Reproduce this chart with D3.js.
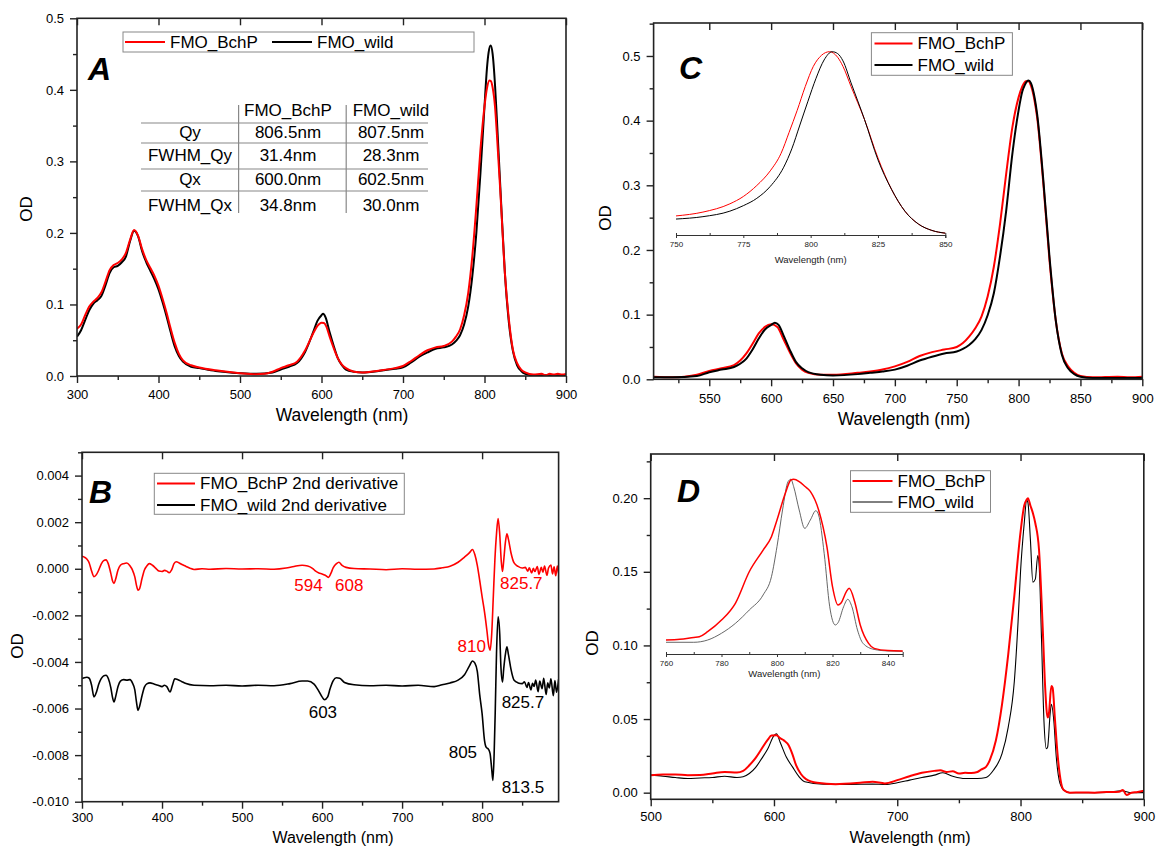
<!DOCTYPE html>
<html>
<head>
<meta charset="utf-8">
<script src="https://cdn.jsdelivr.net/npm/d3@7"></script>
<style>
  body { margin: 0; background: #fff; }
  text { font-family: Arial, "Liberation Sans", sans-serif; }
</style>
</head>
<body>
<svg id="fig" width="1157" height="846"></svg>
<script>
// ---------- data ----------
// panel A : absorption spectra
const absBchP = [[300,0.066],[305,0.072],[310,0.085],[315,0.097],[320,0.104],[325,0.109],[330,0.117],[335,0.132],[340,0.148],[345,0.155],[350,0.158],[355,0.163],[360,0.172],[365,0.190],[370,0.204],[375,0.196],[380,0.177],[385,0.162],[390,0.151],[395,0.140],[400,0.126],[405,0.108],[410,0.088],[415,0.066],[420,0.046],[425,0.031],[430,0.022],[440,0.015],[450,0.012],[470,0.008],[500,0.004],[520,0.0025],[530,0.003],[540,0.006],[550,0.011],[560,0.015],[570,0.020],[580,0.036],[590,0.060],[595,0.070],[600,0.0745],[603,0.074],[606,0.069],[610,0.055],[615,0.039],[620,0.025],[625,0.016],[630,0.011],[640,0.006],[650,0.005],[670,0.0075],[690,0.011],[700,0.014],[710,0.021],[720,0.029],[730,0.036],[740,0.040],[750,0.042],[760,0.048],[765,0.055],[770,0.065],[775,0.085],[780,0.116],[785,0.167],[790,0.237],[795,0.316],[800,0.377],[803,0.402],[806,0.413],[808,0.412],[810,0.403],[813,0.375],[815,0.342],[820,0.246],[825,0.144],[830,0.078],[835,0.036],[840,0.018],[845,0.009],[850,0.005],[860,0.002],[870,0.003],[875,0.001],[880,0.003],[885,0.002],[890,0.003],[895,0.002],[900,0.003]];
const absWild = [[300,0.055],[305,0.064],[310,0.078],[315,0.092],[320,0.101],[325,0.106],[330,0.112],[335,0.127],[340,0.144],[345,0.152],[350,0.154],[355,0.159],[360,0.167],[365,0.188],[370,0.203],[375,0.195],[380,0.174],[385,0.159],[390,0.147],[395,0.135],[400,0.121],[405,0.103],[410,0.083],[415,0.061],[420,0.041],[425,0.028],[430,0.020],[440,0.013],[450,0.011],[470,0.007],[500,0.004],[520,0.003],[540,0.005],[550,0.009],[560,0.013],[570,0.018],[580,0.034],[590,0.062],[595,0.077],[600,0.085],[602,0.087],[605,0.082],[610,0.061],[615,0.042],[620,0.025],[625,0.015],[630,0.009],[640,0.006],[650,0.005],[670,0.007],[690,0.010],[700,0.012],[710,0.019],[720,0.027],[730,0.033],[740,0.038],[750,0.040],[760,0.044],[765,0.049],[770,0.057],[775,0.072],[780,0.097],[785,0.139],[790,0.200],[795,0.283],[800,0.377],[803,0.430],[805,0.452],[807.5,0.462],[810,0.450],[813,0.405],[815,0.363],[820,0.251],[825,0.144],[830,0.074],[835,0.034],[840,0.015],[845,0.007],[850,0.003],[860,0.001],[900,0.001]];

const tableCols = ["FMO_BchP", "FMO_wild"];
const tableRows = ["Qy", "FWHM_Qy", "Qx", "FWHM_Qx"];
const tableBchP = ["806.5nm", "31.4nm", "600.0nm", "34.8nm"];
const tableWild = ["807.5nm", "28.3nm", "602.5nm", "30.0nm"];

// panel B : 2nd derivative spectra
const derBchP = [[300,0.00054],[303,0.00050],[306,0.00042],[309,0.00025],[312,-0.00010],[315,-0.00034],[318,-0.00025],[321,-0.00005],[324,0.00020],[327,0.00035],[330,0.00038],[333,0.00020],[336,-0.00020],[338,-0.00050],[340,-0.00063],[342,-0.00045],[345,-0.00005],[348,0.00015],[352,0.00022],[356,0.00025],[360,0.00012],[363,-0.00005],[366,-0.00035],[368,-0.00070],[370,-0.00092],[372,-0.00085],[375,-0.00042],[378,-0.00005],[381,0.00012],[384,0.00022],[388,0.00015],[392,0.00003],[396,-0.00010],[400,-0.00012],[403,-0.00007],[406,-0.00010],[409,-0.00017],[412,-0.00005],[415,0.00022],[418,0.00030],[421,0.00026],[425,0.00018],[430,0.00010],[435,0.00002],[440,-0.00003],[450,0.00000],[460,-0.00002],[480,0.00001],[500,-0.00001],[520,0.00000],[540,-0.00002],[555,0.00003],[565,0.00010],[575,0.00015],[582,0.00012],[588,0.00002],[592,-0.00010],[596,-0.00018],[600,-0.00022],[604,-0.00028],[608,-0.00037],[611,-0.00020],[614,0.00005],[618,0.00022],[621,0.00028],[625,0.00015],[630,0.00006],[640,0.00001],[660,-0.00001],[680,-0.00004],[700,0.00000],[720,-0.00002],[740,-0.00001],[750,0.00004],[760,0.00011],[770,0.00028],[778,0.00050],[784,0.00068],[788,0.00083],[791,0.00060],[794,0.00015],[797,-0.00050],[800,-0.00120],[803,-0.00185],[806,-0.00265],[808,-0.00325],[810,-0.00350],[812,-0.00280],[814,-0.00120],[816,0.00040],[818,0.00150],[820,0.00216],[822,0.00150],[824,0.00030],[825.5,-0.00012],[827,0.00035],[829,0.00110],[831,0.00150],[833,0.00125],[836,0.00070],[840,0.00025],[845,0.00010],[850,0.00003],[854,0.00006],[857,-0.00010],[859,0.00004],[862,-0.00018],[864,0.00002],[866,-0.00012],[869,0.00010],[871,-0.00024],[874,0.00006],[876,-0.00015],[878,0.00012],[881,-0.00028],[883,0.00003],[886,0.00016],[888,-0.00022],[890,0.00008],[892,-0.00030],[894,0.00012],[895.6,-0.00020]];
const derWild = [[300,-0.00472],[303,-0.00468],[306,-0.00466],[309,-0.00470],[312,-0.00500],[315,-0.00550],[318,-0.00530],[321,-0.00495],[324,-0.00472],[327,-0.00460],[330,-0.00457],[333,-0.00472],[336,-0.00510],[338,-0.00550],[340,-0.00572],[342,-0.00550],[345,-0.00505],[348,-0.00482],[352,-0.00476],[356,-0.00478],[360,-0.00476],[363,-0.00490],[366,-0.00520],[368,-0.00570],[370,-0.00608],[372,-0.00590],[375,-0.00545],[378,-0.00508],[381,-0.00494],[385,-0.00490],[390,-0.00495],[395,-0.00500],[400,-0.00506],[403,-0.00500],[406,-0.00506],[410,-0.00529],[413,-0.00500],[416,-0.00472],[420,-0.00476],[425,-0.00485],[430,-0.00493],[440,-0.00500],[460,-0.00502],[480,-0.00500],[500,-0.00503],[520,-0.00500],[540,-0.00502],[560,-0.00493],[575,-0.00482],[582,-0.00482],[590,-0.00495],[595,-0.00520],[600,-0.00550],[603,-0.00562],[607,-0.00550],[610,-0.00515],[614,-0.00480],[618,-0.00468],[622,-0.00470],[628,-0.00488],[640,-0.00498],[660,-0.00502],[680,-0.00500],[700,-0.00503],[720,-0.00500],[740,-0.00506],[750,-0.00498],[760,-0.00490],[770,-0.00478],[778,-0.00455],[784,-0.00418],[788,-0.00396],[791,-0.00405],[794,-0.00440],[797,-0.00540],[800,-0.00622],[803,-0.00737],[805,-0.00766],[808,-0.00775],[810,-0.00794],[812,-0.00860],[813.5,-0.00909],[815,-0.00800],[816.5,-0.00600],[818,-0.00364],[820,-0.00206],[822,-0.00278],[823.5,-0.00420],[825.5,-0.00486],[827,-0.00430],[829,-0.00370],[831,-0.00335],[833,-0.00370],[836,-0.00430],[840,-0.00479],[845,-0.00490],[850,-0.00493],[853,-0.00485],[856,-0.00510],[858,-0.00488],[861,-0.00520],[863,-0.00492],[865,-0.00505],[867,-0.00478],[870,-0.00528],[872,-0.00482],[875,-0.00515],[877,-0.00470],[880,-0.00540],[882,-0.00490],[884,-0.00512],[886,-0.00472],[889,-0.00545],[891,-0.00480],[893,-0.00530],[895.6,-0.00475]];

// peak labels in B: [text, nm, OD, colour]
const derLabels = [
  ["594", 583, -0.00070, "red"], ["608", 634, -0.00070, "red"],
  ["825.7", 849, -0.00063, "red"], ["810", 787, -0.00332, "red"],
  ["603", 601, -0.00619, "black"], ["825.7", 851, -0.00572, "black"],
  ["805", 776, -0.00787, "black"], ["813.5", 851, -0.00938, "black"]
];

// panel C : normalised spectra
const normBchP = [[505,0.004],[520,0.003],[530,0.004],[540,0.007],[550,0.013],[560,0.017],[570,0.022],[575,0.029],[580,0.040],[585,0.055],[590,0.071],[595,0.081],[600,0.085],[605,0.081],[610,0.062],[615,0.042],[620,0.025],[625,0.015],[630,0.010],[640,0.007],[650,0.007],[670,0.010],[680,0.012],[690,0.015],[700,0.020],[710,0.027],[720,0.036],[730,0.042],[740,0.046],[750,0.050],[755,0.056],[760,0.066],[765,0.079],[770,0.097],[775,0.128],[780,0.174],[785,0.240],[790,0.318],[795,0.390],[800,0.436],[803,0.453],[806,0.461],[808,0.461],[810,0.454],[813,0.430],[815,0.405],[820,0.303],[825,0.184],[830,0.092],[835,0.040],[840,0.020],[845,0.010],[850,0.005],[860,0.003],[880,0.004],[890,0.003],[900,0.004]];
const normWild = [[505,0.003],[520,0.003],[540,0.005],[550,0.011],[560,0.015],[570,0.019],[575,0.024],[580,0.032],[585,0.046],[590,0.063],[595,0.077],[600,0.084],[603,0.0875],[606,0.084],[610,0.068],[615,0.046],[620,0.027],[625,0.017],[630,0.011],[640,0.007],[650,0.006],[670,0.008],[680,0.010],[690,0.012],[700,0.015],[710,0.021],[720,0.029],[730,0.035],[740,0.040],[750,0.043],[755,0.047],[760,0.053],[765,0.062],[770,0.076],[775,0.099],[780,0.133],[785,0.190],[790,0.261],[795,0.349],[800,0.416],[803,0.445],[805,0.455],[808,0.462],[810,0.458],[813,0.435],[815,0.410],[820,0.308],[825,0.189],[830,0.092],[835,0.038],[840,0.017],[845,0.008],[850,0.004],[860,0.002],[900,0.002]];
const insetCBchP = [[750,0.104],[760,0.125],[770,0.17],[775,0.21],[780,0.27],[785,0.35],[789,0.445],[792,0.56],[795,0.68],[798,0.81],[801,0.92],[804,0.98],[807,1.0],[810,0.97],[812,0.92],[815,0.81],[820,0.63],[825,0.42],[830,0.25],[835,0.13],[840,0.06],[845,0.025],[850,0.01]];
const insetCWild = [[750,0.087],[760,0.10],[770,0.13],[775,0.16],[780,0.20],[785,0.265],[790,0.37],[793,0.47],[796,0.60],[799,0.73],[802,0.855],[805,0.955],[808,1.0],[810,0.99],[812,0.95],[815,0.83],[820,0.63],[825,0.41],[830,0.25],[835,0.13],[840,0.06],[845,0.025],[850,0.01]];

// panel D : low temperature spectra
const ltBchP = [[500,0.0119],[510,0.0123],[520,0.0123],[530,0.0119],[540,0.0120],[550,0.0130],[560,0.0141],[570,0.0137],[575,0.0148],[580,0.0186],[585,0.0235],[590,0.0298],[595,0.0360],[598,0.0388],[602,0.0390],[605,0.0370],[608,0.0355],[612,0.0320],[615,0.0260],[618,0.0185],[622,0.0125],[626,0.0092],[635,0.0067],[650,0.0058],[670,0.0067],[680,0.0074],[690,0.0063],[700,0.0085],[710,0.0112],[720,0.0135],[730,0.0148],[735,0.0152],[740,0.0141],[745,0.0145],[750,0.0130],[755,0.0135],[760,0.0133],[765,0.0140],[768,0.0157],[772,0.0175],[775,0.0220],[780,0.0354],[785,0.0600],[790,0.0937],[795,0.1340],[800,0.1770],[803,0.1950],[805,0.1990],[806,0.2000],[808,0.1950],[810,0.1900],[812,0.1830],[815,0.1650],[818,0.1120],[820,0.0713],[822,0.0510],[823,0.0534],[825,0.0724],[826,0.0713],[828,0.0489],[830,0.0265],[833,0.0063],[835,0.0018],[840,0.0000],[850,0.0002],[860,0.0000],[870,0.0004],[880,0.0007],[883,0.0018],[886,-0.0016],[890,0.0000],[895,0.0004],[900,0.0013]];
const ltWild = [[500,0.0119],[510,0.0112],[520,0.0103],[530,0.0096],[540,0.0100],[550,0.0103],[560,0.0112],[570,0.0103],[575,0.0108],[580,0.0130],[585,0.0170],[590,0.0231],[595,0.0298],[600,0.0388],[602,0.0399],[605,0.0343],[610,0.0242],[615,0.0175],[620,0.0112],[625,0.0074],[640,0.0058],[660,0.0056],[680,0.0058],[690,0.0056],[700,0.0067],[710,0.0085],[720,0.0103],[730,0.0119],[737,0.0135],[745,0.0112],[755,0.0096],[765,0.0096],[772,0.0103],[778,0.0152],[785,0.0265],[790,0.0444],[795,0.0758],[798,0.1160],[800,0.1500],[803,0.1830],[805,0.1987],[806,0.1970],[808,0.1720],[810,0.1430],[812,0.1450],[814,0.1610],[815,0.1560],[817,0.1050],[819,0.0489],[821,0.0298],[822,0.0310],[824,0.0534],[825,0.0600],[827,0.0489],[829,0.0242],[832,0.0063],[835,0.0018],[840,0.0000],[850,0.0000],[870,0.0002],[882,0.0013],[890,0.0000],[900,0.0000]];
const insetDBchP = [[760,0.073],[765,0.077],[770,0.088],[772,0.092],[775,0.121],[780,0.188],[785,0.285],[790,0.467],[795,0.592],[798,0.669],[800,0.765],[803,0.919],[805,0.996],[806,1.0],[808,0.987],[810,0.96],[812,0.93],[815,0.823],[818,0.61],[820,0.381],[822,0.275],[823,0.285],[825,0.352],[826,0.371],[828,0.294],[830,0.16],[833,0.054],[835,0.025],[840,0.012],[845.3,0.01]];
const insetDWild = [[760,0.06],[770,0.06],[775,0.073],[780,0.112],[785,0.169],[790,0.246],[795,0.333],[798,0.438],[800,0.612],[802,0.823],[804,0.987],[805,1.0],[806,0.958],[808,0.823],[810,0.717],[812,0.765],[814,0.819],[815,0.794],[817,0.573],[819,0.265],[821,0.16],[822,0.173],[824,0.265],[825.5,0.308],[827,0.265],[829,0.131],[831,0.054],[835,0.019],[840,0.01],[845.3,0.008]];

// ---------- drawing ----------
const svg = d3.select("#fig");
svg.append("rect").attr("width", 1157).attr("height", 846).attr("fill", "#fff");

const RED = "#ff0000";
const FONT = "Arial, 'Liberation Sans', sans-serif";
const TICK_FONT = 13;
const dash = s => s.replace(/\u2212/g, "-");
const range = (a, b, s) => d3.range(a, b + s / 2, s);

function makeLine(x, y) {
    return d3.line().x(d => x(d[0])).y(d => y(d[1])).curve(d3.curveMonotoneX);
}

// d3.axis sets font-size 10 on its group, so restyle after the call
function styleAxis(sel, size) {
    sel.attr("font-size", size).attr("font-family", FONT);
    sel.selectAll(".domain").remove();
    sel.selectAll("line").attr("stroke", "#222").attr("stroke-width", 1.4);
    sel.selectAll("text").attr("fill", "#000");
}

function drawPanel(p) {
    let g = svg.append("g").attr("class", "panel-" + p.id);
    let x = d3.scaleLinear().domain(p.xDomain).range([p.left, p.right]);
    let y = d3.scaleLinear().domain(p.yDomain).range([p.bottom, p.top]);

    // clip curves to the frame
    let clipId = "clip-" + p.id;
    svg.append("clipPath").attr("id", clipId).append("rect")
        .attr("x", p.left).attr("y", p.top)
        .attr("width", p.right - p.left).attr("height", p.bottom - p.top);

    let line = makeLine(x, y);
    let curves = g.append("g").attr("clip-path", `url(#${clipId})`);
    p.series.forEach(s => {
        curves.append("path").datum(s.data)
            .attr("d", line)
            .attr("fill", "none")
            .attr("stroke", s.color)
            .attr("stroke-width", s.width)
            .attr("stroke-linejoin", "round");
    });

    // axes: bottom & left ticks point out, top ticks point in
    let axG = g.append("g");
    axG.append("g").attr("transform", `translate(0,${p.bottom})`)
        .call(d3.axisBottom(x).tickValues(p.xMajor).tickSize(7).tickPadding(p.xPad).tickFormat(p.xFmt))
        .call(styleAxis, TICK_FONT);
    axG.append("g").attr("transform", `translate(0,${p.bottom})`)
        .call(d3.axisBottom(x).tickValues(p.xMinor).tickSize(4).tickFormat(""))
        .call(styleAxis, TICK_FONT);
    axG.append("g").attr("transform", `translate(0,${p.top})`)
        .call(d3.axisTop(x).tickValues(p.xMajor).tickSize(-7).tickFormat(""))
        .call(styleAxis, TICK_FONT);
    axG.append("g").attr("transform", `translate(${p.left},0)`)
        .call(d3.axisLeft(y).tickValues(p.yMajor).tickSize(7).tickPadding(6).tickFormat(p.yFmt))
        .call(styleAxis, TICK_FONT);
    axG.append("g").attr("transform", `translate(${p.left},0)`)
        .call(d3.axisLeft(y).tickValues(p.yMinor).tickSize(4).tickFormat(""))
        .call(styleAxis, TICK_FONT);

    g.append("rect")
        .attr("x", p.left).attr("y", p.top)
        .attr("width", p.right - p.left).attr("height", p.bottom - p.top)
        .attr("fill", "none").attr("stroke", "#222").attr("stroke-width", 1.6);

    // titles
    g.append("text").attr("x", p.xTitle[0]).attr("y", p.xTitle[1])
        .attr("text-anchor", "middle").attr("font-size", p.xTitleSize).text("Wavelength (nm)");
    g.append("text")
        .attr("transform", `translate(${p.yTitle[0]},${p.yTitle[1]}) rotate(-90)`)
        .attr("text-anchor", "middle").attr("dominant-baseline", "central")
        .attr("font-size", 17).text("OD");
    g.append("text").attr("x", p.letter[0]).attr("y", p.letter[1])
        .attr("font-size", 32).attr("font-weight", "bold").attr("font-style", "italic")
        .text(p.id);

    // legend
    let L = p.legend;
    let lg = g.append("g");
    lg.append("rect").attr("x", L.x).attr("y", L.y).attr("width", L.w).attr("height", L.h)
        .attr("fill", "#fff").attr("stroke", "#888").attr("stroke-width", 1);
    L.items.forEach(it => {
        lg.append("line").attr("x1", it.x).attr("x2", it.x + L.lineLen)
            .attr("y1", it.y).attr("y2", it.y)
            .attr("stroke", it.color).attr("stroke-width", it.width);
        lg.append("text").attr("x", it.x + L.lineLen + 5).attr("y", it.y)
            .attr("dominant-baseline", "central").attr("font-size", 17).text(it.label);
    });

    return {g, x, y};
}

function drawInset(g, ins) {
    let x = d3.scaleLinear().domain(ins.xDomain).range([ins.left, ins.right]);
    let y = d3.scaleLinear().domain([0, 1]).range([ins.base, ins.peak]);
    let line = makeLine(x, y);
    ins.series.forEach(s => {
        g.append("path").datum(s.data).attr("d", line)
            .attr("fill", "none").attr("stroke", s.color).attr("stroke-width", s.width);
    });
    let ax = g.append("g").attr("transform", `translate(0,${ins.axisY})`);
    ax.call(d3.axisBottom(x).tickValues(ins.major).tickSize(3).tickPadding(3).tickFormat(d3.format("d")));
    ax.append("g").call(d3.axisBottom(x).tickValues(ins.minor).tickSize(-2).tickFormat(""));
    ax.attr("font-size", 8).attr("font-family", FONT);
    ax.selectAll(".domain").attr("stroke", "#333").attr("stroke-width", 1);
    ax.selectAll("line").attr("stroke", "#333");
    ax.selectAll("text").attr("fill", "#222");
    g.append("text").attr("x", (ins.left + ins.right) / 2).attr("y", ins.titleY)
        .attr("text-anchor", "middle").attr("dominant-baseline", "central")
        .attr("font-size", 9.5).attr("fill", "#222").text("Wavelength (nm)");
}

// ---- A ----
let A = drawPanel({
    id: "A", left: 77, right: 566, top: 18.3, bottom: 376,
    xDomain: [300, 900], yDomain: [0, 0.5],
    xMajor: range(300, 900, 100), xMinor: range(350, 850, 100),
    yMajor: range(0, 0.5, 0.1), yMinor: range(0.05, 0.45, 0.1),
    xFmt: d3.format("d"), yFmt: d3.format(".1f"), xPad: 7,
    xTitle: [342, 421], xTitleSize: 17.5, yTitle: [26, 209], letter: [88, 80],
    series: [{data: absWild, color: "#000", width: 2}, {data: absBchP, color: RED, width: 2}],
    legend: {x: 123, y: 32, w: 351, h: 20, lineLen: 40, items: [
        {x: 125, y: 42, color: RED, width: 2, label: "FMO_BchP"},
        {x: 272, y: 42, color: "#000", width: 2, label: "FMO_wild"}]}
});

// summary table in A
(function() {
    let g = A.g.append("g").attr("font-size", 17);
    let rowY = [132, 155, 179, 205], hLines = [123, 143, 169, 191];
    let colX = [190, 288, 391];
    hLines.forEach(yy => g.append("line").attr("x1", 141).attr("x2", 428)
        .attr("y1", yy).attr("y2", yy).attr("stroke", "#888").attr("stroke-width", 1.2));
    [238.6, 346.2].forEach(xx => g.append("line").attr("x1", xx).attr("x2", xx)
        .attr("y1", 105).attr("y2", 213).attr("stroke", "#888").attr("stroke-width", 1.2));
    tableCols.forEach((c, i) => g.append("text").attr("x", colX[i + 1]).attr("y", 110)
        .attr("text-anchor", "middle").attr("dominant-baseline", "central").text(c));
    tableRows.forEach((r, i) => {
        [r, tableBchP[i], tableWild[i]].forEach((t, j) => g.append("text")
            .attr("x", colX[j]).attr("y", rowY[i])
            .attr("text-anchor", "middle").attr("dominant-baseline", "central").text(t));
    });
})();

// ---- B ----
let B = drawPanel({
    id: "B", left: 82, right: 558.6, top: 452.3, bottom: 801.7,
    xDomain: [300, 895.6], yDomain: [-0.010, 0.005],
    xMajor: range(300, 800, 100), xMinor: range(350, 850, 100),
    yMajor: range(-0.010, 0.004, 0.002), yMinor: range(-0.009, 0.005, 0.002),
    xFmt: d3.format("d"), yFmt: d => dash(d3.format(".3f")(d)), xPad: 4,
    xTitle: [333, 842.5], xTitleSize: 16, yTitle: [17, 646], letter: [89, 503],
    series: [{data: derBchP, color: RED, width: 1.6}, {data: derWild, color: "#000", width: 1.6}],
    legend: {x: 154.3, y: 473.3, w: 250, h: 41, lineLen: 38, items: [
        {x: 157, y: 483.5, color: RED, width: 2, label: "FMO_BchP 2nd derivative"},
        {x: 157, y: 505, color: "#000", width: 2, label: "FMO_wild 2nd derivative"}]}
});
derLabels.forEach(([t, nm, od, c]) => {
    B.g.append("text").attr("x", B.x(nm)).attr("y", B.y(od))
        .attr("text-anchor", "middle").attr("dominant-baseline", "central")
        .attr("font-size", 17).attr("fill", c === "red" ? RED : "#000").text(t);
});

// ---- C ----
let C = drawPanel({
    id: "C", left: 653.6, right: 1142.3, top: 23, bottom: 379.3,
    xDomain: [505, 900], yDomain: [0, 0.551],
    xMajor: range(550, 900, 50), xMinor: range(525, 875, 50),
    yMajor: range(0, 0.5, 0.1), yMinor: range(0.05, 0.55, 0.1),
    xFmt: d3.format("d"), yFmt: d3.format(".1f"), xPad: 7,
    xTitle: [904, 425], xTitleSize: 17.5, yTitle: [605, 218], letter: [679, 79],
    series: [{data: normBchP, color: RED, width: 2}, {data: normWild, color: "#000", width: 2}],
    legend: {x: 871.4, y: 32.7, w: 141, h: 42.6, lineLen: 38, items: [
        {x: 874.5, y: 43.5, color: RED, width: 2, label: "FMO_BchP"},
        {x: 874.5, y: 65, color: "#000", width: 2, label: "FMO_wild"}]}
});
drawInset(C.g, {
    xDomain: [750, 850], left: 676, right: 945.3, base: 235, peak: 51.7, axisY: 235,
    major: range(750, 850, 25), minor: range(762.5, 837.5, 25), titleY: 259.5,
    series: [{data: insetCBchP, color: RED, width: 1}, {data: insetCWild, color: "#000", width: 1}]
});

// ---- D ----
let D = drawPanel({
    id: "D", left: 650.7, right: 1143.8, top: 454, bottom: 799.3,
    xDomain: [500, 900], yDomain: [-0.0045, 0.230],
    xMajor: range(500, 900, 100), xMinor: range(550, 850, 100),
    yMajor: range(0, 0.20, 0.05), yMinor: range(0.025, 0.225, 0.05),
    xFmt: d3.format("d"), yFmt: d3.format(".2f"), xPad: 5,
    xTitle: [910, 842.5], xTitleSize: 16, yTitle: [592, 643], letter: [677, 502],
    series: [{data: ltWild, color: "#000", width: 1.1}, {data: ltBchP, color: RED, width: 2}],
    legend: {x: 850.5, y: 470.7, w: 140, h: 41.6, lineLen: 40, items: [
        {x: 852.5, y: 481, color: RED, width: 2.2, label: "FMO_BchP"},
        {x: 852.5, y: 502, color: "#000", width: 1, label: "FMO_wild"}]}
});
drawInset(D.g, {
    xDomain: [760, 845.3], left: 666, right: 902.7, base: 652.7, peak: 479.3, axisY: 654,
    major: range(760, 840, 20), minor: range(770, 830, 20), titleY: 673.5,
    series: [{data: insetDWild, color: "#555", width: 0.9}, {data: insetDBchP, color: RED, width: 1.5}]
});
</script>
</body>
</html>
